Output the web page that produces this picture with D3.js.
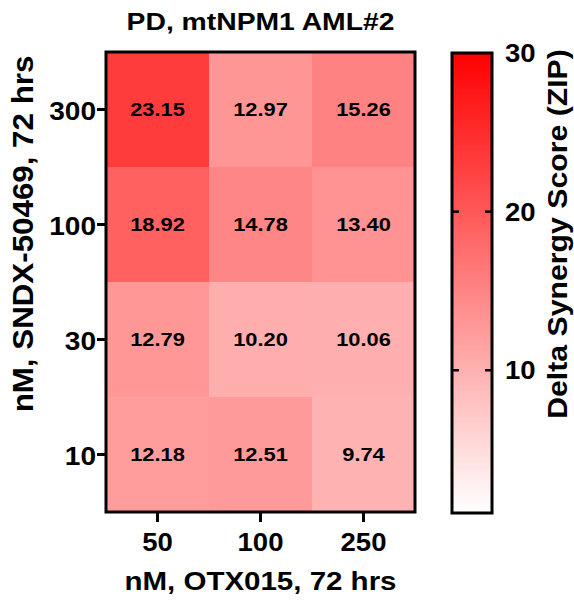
<!DOCTYPE html>
<html>
<head>
<meta charset="utf-8">
<script src="https://cdn.jsdelivr.net/npm/d3@7"></script>
<style>
  html, body { margin: 0; padding: 0; background: #fff; }
  text { font-family: "Liberation Sans", Arial, Helvetica, sans-serif; font-weight: bold; fill: #000; }
</style>
</head>
<body>
<svg id="chart" width="574" height="602"></svg>
<script>
// ---- data ----
const xCategories = ["50", "100", "250"];          // nM, OTX015
const yCategories = ["300", "100", "30", "10"];    // nM, SNDX-50469 (top to bottom)
const row300 = [23.15, 12.97, 15.26];
const row100 = [18.92, 14.78, 13.40];
const row30  = [12.79, 10.20, 10.06];
const row10  = [12.18, 12.51, 9.74];
const colorDomain = [1, 30];
const colorTicks = [10, 20, 30];
const titleText = "PD, mtNPM1 AML#2";
const xTitle = "nM, OTX015, 72 hrs";
const yTitle = "nM, SNDX-50469, 72 hrs";
const cbTitle = "Delta Synergy Score (ZIP)";

const rows = [row300, row100, row30, row10];
const cells = [];
yCategories.forEach((yc, i) => xCategories.forEach((xc, j) => cells.push({x: xc, y: yc, v: rows[i][j]})));

// ---- layout ----
const svg = d3.select("#chart");
const plot = {left: 106, right: 415, top: 52, bottom: 512};
const cb = {left: 452, right: 492, top: 53, bottom: 513};

const x = d3.scaleBand().domain(xCategories).range([plot.left, plot.right]);
const y = d3.scaleBand().domain(yCategories).range([plot.top, plot.bottom]);
const color = d3.scaleLinear().domain(colorDomain).range(["#ffffff", "#ff0000"]);
const cbY = d3.scaleLinear().domain(colorDomain).range([cb.bottom, cb.top]);

// cells
svg.append("g").selectAll("rect").data(cells).join("rect")
  .attr("x", d => x(d.x)).attr("y", d => y(d.y))
  .attr("width", x.bandwidth() + 0.5).attr("height", y.bandwidth() + 0.5)
  .attr("fill", d => color(d.v));

// cell labels
svg.append("g").selectAll("text").data(cells).join("text")
  .attr("transform", d => `translate(${x(d.x) + x.bandwidth() / 2},${y(d.y) + y.bandwidth() / 2}) scale(1.15,1)`)
  .attr("text-anchor", "middle").attr("dy", "0.36em")
  .style("font-size", "19px")
  .text(d => d.v.toFixed(2));

// frame
svg.append("rect")
  .attr("x", plot.left).attr("y", plot.top)
  .attr("width", plot.right - plot.left).attr("height", plot.bottom - plot.top)
  .attr("fill", "none").attr("stroke", "#000").attr("stroke-width", 3);

// x axis
const gx = svg.append("g").attr("transform", `translate(0,${plot.bottom})`)
  .call(d3.axisBottom(x).tickSize(10).tickPadding(0));
gx.select(".domain").remove();
gx.selectAll(".tick line").attr("stroke", "#000").attr("stroke-width", 3);
gx.selectAll(".tick text")
  .attr("y", 0).attr("dy", 0)
  .attr("transform", "translate(0,39) scale(1.1,1)")
  .style("font-size", "25px");

// y axis
const gy = svg.append("g").attr("transform", `translate(${plot.left},0)`)
  .call(d3.axisLeft(y).tickSize(9).tickPadding(0));
gy.select(".domain").remove();
gy.selectAll(".tick line").attr("stroke", "#000").attr("stroke-width", 3);
gy.selectAll(".tick text")
  .attr("x", 0).attr("dy", "0.36em")
  .attr("transform", "translate(-10,1) scale(1.1,1)")
  .style("font-size", "25.5px");

// color bar
const defs = svg.append("defs");
const grad = defs.append("linearGradient").attr("id", "cbgrad")
  .attr("x1", 0).attr("y1", 1).attr("x2", 0).attr("y2", 0);
d3.range(0, 1.0001, 0.1).forEach(t => {
  grad.append("stop").attr("offset", t).attr("stop-color", color(colorDomain[0] + t * (colorDomain[1] - colorDomain[0])));
});
svg.append("rect")
  .attr("x", cb.left).attr("y", cb.top)
  .attr("width", cb.right - cb.left).attr("height", cb.bottom - cb.top)
  .attr("fill", "url(#cbgrad)").attr("stroke", "#000").attr("stroke-width", 3);

const cbt = svg.append("g").selectAll("g").data(colorTicks).join("g")
  .attr("transform", d => `translate(0,${cbY(d)})`);
cbt.filter(d => d !== colorDomain[1]).append("line")
  .attr("x1", cb.left).attr("x2", cb.left + 7).attr("stroke", "#000").attr("stroke-width", 2.5);
cbt.filter(d => d !== colorDomain[1]).append("line")
  .attr("x1", cb.right - 7).attr("x2", cb.right).attr("stroke", "#000").attr("stroke-width", 2.5);
cbt.append("text")
  .attr("transform", `translate(505,${0}) scale(1.1,1)`)
  .attr("dy", "0.36em")
  .style("font-size", "25px")
  .text(d => d);

// titles
svg.append("text")
  .attr("transform", `translate(${(plot.left + plot.right) / 2},30) scale(1.18,1)`)
  .attr("text-anchor", "middle").style("font-size", "24px")
  .text(titleText);

svg.append("text")
  .attr("transform", `translate(${(plot.left + plot.right) / 2},590) scale(1.18,1)`)
  .attr("text-anchor", "middle").style("font-size", "25px")
  .text(xTitle);

svg.append("text")
  .attr("transform", `translate(33,234) rotate(-90) scale(1.08,1)`)
  .attr("text-anchor", "middle").style("font-size", "29px")
  .text(yTitle);

svg.append("text")
  .attr("transform", `translate(567,234) rotate(-90) scale(1.12,1)`)
  .attr("text-anchor", "middle").style("font-size", "27px")
  .text(cbTitle);
</script>
</body>
</html>
